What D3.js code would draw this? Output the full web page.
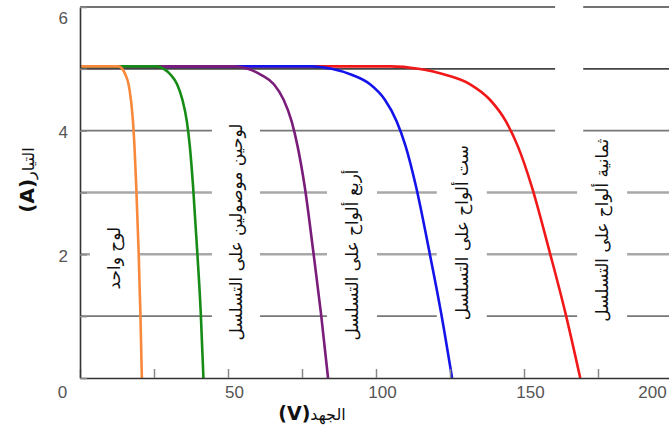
<!DOCTYPE html>
<html>
<head>
  <meta charset="utf-8">
  <script src="https://d3js.org/d3.v7.min.js"></script>
  <style>
    body { margin: 0; background: #fff; }
    svg { display: block; }
  </style>
</head>
<body>
<div id="chart"></div>
<script>
// panels in series: 1, 2, 4, 6, 8
var seriesNames = ["لوح واحد", "لوحين موصولين على التسلسل", "أربع ألواح على التسلسل",
                   "ست ألواح على التسلسل", "ثمانية ألواح على التسلسل"];
var seriesColors = ["#f8893c", "#168c16", "#7a1c7a", "#1414ea", "#f01818"];

// voltage (V) and current (A)
var v1 = [0, 13, 14.3, 15.4, 16.4, 17.2, 17.9, 18.4, 19.0, 19.8, 20.4, 20.9];
var i1 = [5.04, 5.04, 5.0, 4.9, 4.75, 4.5, 4.15, 3.75, 3.1, 2.05, 1.05, 0];
var v2 = [0, 26, 28.3, 30.7, 32.8, 34.6, 36.1, 37.1, 38.2, 39.6, 40.8, 41.7];
var i2 = [5.04, 5.04, 5.0, 4.9, 4.75, 4.5, 4.15, 3.75, 3.1, 2.05, 1.05, 0];
var v4 = [0, 52, 56.7, 61.3, 65.5, 68.8, 71.5, 73.5, 75.9, 78.8, 81.4, 83.8];
var i4 = [5.04, 5.04, 5.0, 4.9, 4.75, 4.5, 4.15, 3.75, 3.1, 2.05, 1.05, 0];
var v6 = [0, 78, 85, 92, 98, 103, 107, 110, 113.5, 118, 122, 125.7];
var i6 = [5.04, 5.04, 5.0, 4.9, 4.75, 4.5, 4.15, 3.75, 3.1, 2.05, 1.05, 0];
var v8 = [0, 105, 114.3, 123.7, 131.8, 138.5, 143.9, 147.9, 152.6, 158.6, 164, 169];
var i8 = [5.04, 5.04, 5.0, 4.9, 4.75, 4.5, 4.15, 3.75, 3.1, 2.05, 1.05, 0];

// where each curve's caption sits, in data units (volts, amps)
var labelV = [11.5, 52.7, 91.9, 129, 176.4];
var labelI = [1.94, 2.36, 1.99, 2.35, 2.39];

var xTicks = [0, 25, 50, 75, 100, 125, 150, 175, 200];
var yTicks = [0, 1, 2, 3, 4, 5, 6];

var width = 669, height = 432;

var svg = d3.select("#chart").append("svg")
    .attr("width", width)
    .attr("height", height);

svg.append("rect").attr("width", width).attr("height", height).attr("fill", "#fff");

var x = d3.scaleLinear().domain([0, 200]).range([80, 672]);
var y = d3.scaleLinear().domain([0, 6]).range([378, 7]);

// gridlines
function gridColor(d) { return (d == 2 || d == 3) ? "#a8a8a8" : (d >= 5 ? "#444" : "#777"); }
svg.append("g").selectAll("line")
  .data([1, 2, 3, 4, 5, 6])
  .enter().append("line")
    .attr("x1", x(0)).attr("x2", width)
    .attr("y1", function (d) { return y(d); })
    .attr("y2", function (d) { return y(d); })
    .attr("stroke", gridColor)
    .attr("stroke-width", function (d) { return (d == 2 || d == 3) ? 2.5 : 1.6; });

// gap in the upper gridlines near the right edge
svg.append("rect")
    .attr("x", x(160.5)).attr("width", x(170) - x(160.5))
    .attr("y", 0).attr("height", y(3.8))
    .attr("fill", "#fff");

// curve captions with white boxes that break the gridlines
var series = [[v1, i1], [v2, i2], [v4, i4], [v6, i6], [v8, i8]];

var labels = svg.append("g").selectAll("g")
  .data(seriesNames)
  .enter().append("g")
    .attr("transform", function (d, k) {
      return "translate(" + x(labelV[k]) + "," + y(labelI[k]) + ") rotate(-90)";
    });

labels.append("rect").attr("fill", "#fff");
labels.append("text")
    .attr("text-anchor", "middle")
    .attr("dy", "0.35em")
    .style("font", "17px 'DejaVu Sans', sans-serif")
    .attr("fill", "#111")
    .text(function (d) { return d; });

labels.each(function () {
  var g = d3.select(this);
  var bb = g.select("text").node().getBBox();
  g.select("rect")
    .attr("x", bb.x - 6).attr("width", bb.width + 12)
    .attr("y", bb.y - 14).attr("height", bb.height + 28);
});

// I-V curves, red first so the orange sits on top
var line = d3.line()
    .x(function (d) { return x(d[0]); })
    .y(function (d) { return y(d[1]); })
    .curve(d3.curveMonotoneX);

var order = [4, 3, 2, 1, 0];
svg.append("g").selectAll("path")
  .data(order)
  .enter().append("path")
    .attr("d", function (k) {
      var s = series[k];
      return line(s[0].map(function (v, j) { return [v, s[1][j]]; }));
    })
    .attr("fill", "none")
    .attr("stroke", function (k) { return seriesColors[k]; })
    .attr("stroke-width", 2.6);

// x axis
var xAxis = svg.append("g")
    .attr("transform", "translate(0," + y(0) + ")")
    .call(d3.axisBottom(x).tickValues(xTicks).tickSize(-9).tickSizeOuter(0)
      .tickFormat(function (d) { return d % 50 == 0 ? d : ""; }));
xAxis.select(".domain").attr("stroke", "#333").attr("stroke-width", 1.6);
xAxis.selectAll(".tick line").attr("stroke", "#888").attr("stroke-width", 1.5);
xAxis.selectAll(".tick text")
    .attr("y", 8)
    .attr("dx", function (d) { return d == 0 ? -18 : (d == 200 ? -20 : 6); })
    .style("font", "17px 'Liberation Sans', Arial, sans-serif")
    .attr("fill", "#555");

// y axis
var yAxis = svg.append("g")
    .attr("transform", "translate(" + x(0) + ",0)")
    .call(d3.axisLeft(y).tickValues(yTicks).tickSize(-7).tickSizeOuter(0)
      .tickFormat(function (d) { return (d == 2 || d == 4 || d == 6) ? d : ""; }));
yAxis.select(".domain").attr("stroke", "#333").attr("stroke-width", 1.6);
yAxis.selectAll(".tick line").attr("stroke", "#888").attr("stroke-width", 1.5);
yAxis.selectAll(".tick text")
    .attr("x", -12)
    .attr("dy", function (d) { return d == 6 ? "0.95em" : "0.4em"; })
    .style("font", "17px 'Liberation Sans', Arial, sans-serif")
    .attr("fill", "#555");

// axis titles (right-to-left)
var yTitle = svg.append("text")
    .attr("transform", "translate(34,180) rotate(-90)")
    .attr("text-anchor", "middle")
    .attr("direction", "rtl")
    .style("font", "16px 'DejaVu Sans', sans-serif")
    .attr("fill", "#111");
yTitle.append("tspan").text("التيار");
yTitle.append("tspan").style("font-weight", "bold").style("font-size", "20px").text("(A)");

var xTitle = svg.append("text")
    .attr("x", 312).attr("y", 420)
    .attr("text-anchor", "middle")
    .attr("direction", "rtl")
    .style("font", "16px 'DejaVu Sans', sans-serif")
    .attr("fill", "#111");
xTitle.append("tspan").text("الجهد");
xTitle.append("tspan").style("font-weight", "bold").style("font-size", "19px").text("(V)");
</script>
</body>
</html>
